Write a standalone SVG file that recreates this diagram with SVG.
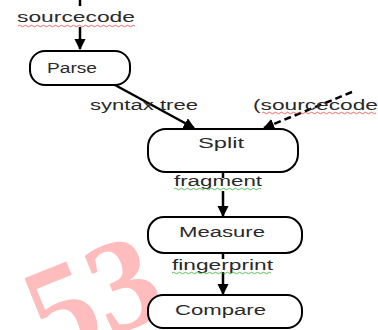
<svg xmlns="http://www.w3.org/2000/svg" width="378" height="330" viewBox="0 0 378 330">
<defs>
<marker id="ah" viewBox="0 0 10 10" refX="9" refY="5" markerWidth="4.5" markerHeight="4.5" orient="auto" markerUnits="strokeWidth"><path d="M0,0 L10,5 L0,10 z" fill="#000"/></marker>
<style>
.node{fill:#fff;stroke:#000;stroke-width:2}
.t{font-family:"Liberation Sans",Arial,sans-serif;font-size:14px;fill:#2a2a2a}
.c{stroke:#000;stroke-width:2.5;fill:none}
.wr{stroke:#d44;stroke-width:0.8;fill:none}
.wg{stroke:#3a3;stroke-width:0.8;fill:none}
</style>
</defs>
<text x="48" y="362" transform="rotate(-22 48 362)" font-family="Liberation Serif,serif" font-weight="bold" font-size="132" fill="#ffbcbc">53</text>
<g id="connectors">
<line class="c" x1="80" y1="0" x2="80" y2="6" stroke-width="2"/>
<line class="c" x1="80" y1="27" x2="80" y2="49" marker-end="url(#ah)"/>
<line class="c" x1="115" y1="85" x2="194" y2="128" marker-end="url(#ah)"/>
<line class="c" x1="352" y1="92" x2="264" y2="128" stroke-dasharray="7,4" marker-end="url(#ah)"/>
<line class="c" x1="223" y1="172" x2="223" y2="178"/>
<line class="c" x1="223" y1="191" x2="223" y2="216" marker-end="url(#ah)"/>
<line class="c" x1="223" y1="253" x2="223" y2="259"/>
<line class="c" x1="223" y1="272" x2="223" y2="294" marker-end="url(#ah)"/>
</g>
<g id="labels">
<text class="t" x="17" y="22" textLength="118" lengthAdjust="spacingAndGlyphs">sourcecode</text>
<path class="wr" d="M18,26 q1.5,-1.5 3,0 t3,0 t3,0 t3,0 t3,0 t3,0 t3,0 t3,0 t3,0 t3,0 t3,0 t3,0 t3,0 t3,0 t3,0 t3,0 t3,0 t3,0 t3,0 t3,0 t3,0 t3,0 t3,0 t3,0 t3,0 t3,0 t3,0 t3,0 t3,0 t3,0 t3,0 t3,0 t3,0 t3,0 t3,0 t3,0 t3,0 t3,0 t3,0"/>
<text class="t" x="90" y="110" textLength="108" lengthAdjust="spacingAndGlyphs">syntax tree</text>
<text class="t" x="253" y="110" textLength="125" lengthAdjust="spacingAndGlyphs">(sourcecode</text>
<path class="wr" d="M262,113 q1.5,-1.5 3,0 t3,0 t3,0 t3,0 t3,0 t3,0 t3,0 t3,0 t3,0 t3,0 t3,0 t3,0 t3,0 t3,0 t3,0 t3,0 t3,0 t3,0 t3,0 t3,0 t3,0 t3,0 t3,0 t3,0 t3,0 t3,0 t3,0 t3,0 t3,0 t3,0 t3,0 t3,0 t3,0 t3,0 t3,0 t3,0 t3,0 t3,0"/>
<text class="t" x="174" y="186" textLength="88" lengthAdjust="spacingAndGlyphs">fragment</text>
<path class="wg" d="M174,189 q1.5,-1.5 3,0 t3,0 t3,0 t3,0 t3,0 t3,0 t3,0 t3,0 t3,0 t3,0 t3,0 t3,0 t3,0 t3,0 t3,0 t3,0 t3,0 t3,0 t3,0 t3,0 t3,0 t3,0 t3,0 t3,0 t3,0 t3,0 t3,0 t3,0 t3,0"/>
<text class="t" x="172" y="270" textLength="101" lengthAdjust="spacingAndGlyphs">fingerprint</text>
<path class="wg" d="M172,273 q1.5,-1.5 3,0 t3,0 t3,0 t3,0 t3,0 t3,0 t3,0 t3,0 t3,0 t3,0 t3,0 t3,0 t3,0 t3,0 t3,0 t3,0 t3,0 t3,0 t3,0 t3,0 t3,0 t3,0 t3,0 t3,0 t3,0 t3,0 t3,0 t3,0 t3,0 t3,0 t3,0 t3,0 t3,0"/>
</g>
<g id="parse"><rect class="node" x="30" y="51" width="100" height="34" rx="15"/><text class="t" x="47" y="73" textLength="50" lengthAdjust="spacingAndGlyphs">Parse</text></g>
<g id="split"><rect class="node" x="148" y="129" width="150" height="43" rx="18"/><text class="t" x="198" y="148" textLength="46" lengthAdjust="spacingAndGlyphs">Split</text></g>
<g id="measure"><rect class="node" x="148" y="217" width="154" height="36" rx="16"/><text class="t" x="179" y="237" textLength="86" lengthAdjust="spacingAndGlyphs">Measure</text></g>
<g id="compare"><rect class="node" x="148" y="295" width="154" height="33" rx="15"/><text class="t" x="175" y="315" textLength="91" lengthAdjust="spacingAndGlyphs">Compare</text></g>
</svg>
